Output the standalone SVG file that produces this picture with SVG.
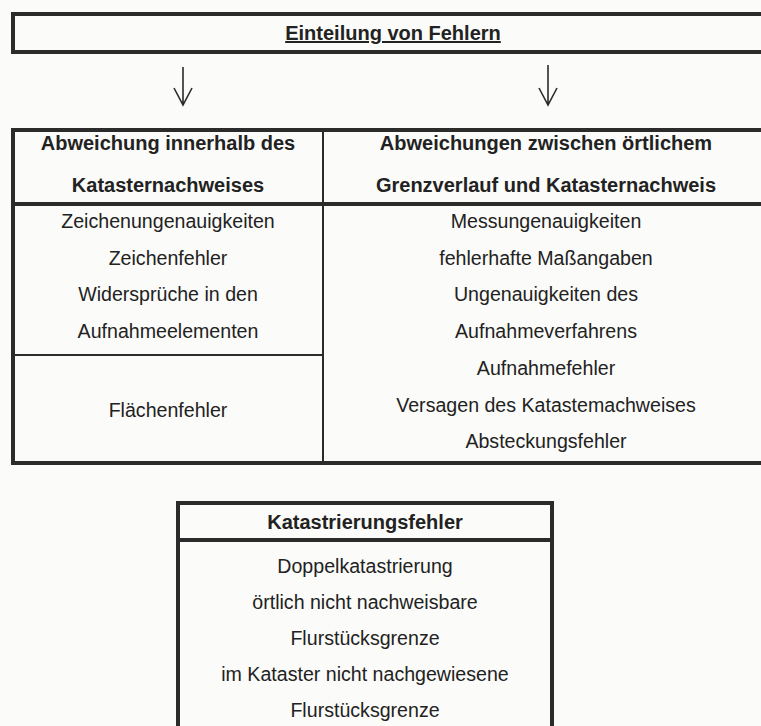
<svg xmlns="http://www.w3.org/2000/svg" width="761" height="726" viewBox="0 0 761 726">
<style>
.t{font-family:"Liberation Sans",Arial,sans-serif;font-size:19.6px;fill:#222;text-anchor:middle}
.b{font-weight:bold;font-size:20px}
.box{fill:none;stroke:#2b2b2b;stroke-width:4}
.thin{stroke:#2b2b2b;stroke-width:2;fill:none}
.thick{stroke:#2b2b2b;stroke-width:4;fill:none}
.arr{stroke:#2b2b2b;stroke-width:1.6;fill:none}
</style>
<rect width="761" height="726" fill="#fbfbf9"/>
<g id="title">
<rect class="box" x="13" y="14" width="760" height="38"/>
<text class="t b" x="393" y="40" text-decoration="underline">Einteilung von Fehlern</text>
</g>
<g id="connectors">
<path class="arr" d="M183 67 V105 M174 88 L183 105 L192 88"/>
<path class="arr" d="M548 65 V105 M539 88 L548 105 L557 88"/>
</g>
<g id="table">
<rect class="box" x="13" y="130" width="760" height="333"/>
<line class="thick" x1="13" y1="204" x2="773" y2="204"/>
<line class="thin" x1="323" y1="130" x2="323" y2="463"/>
<line class="thin" x1="13" y1="355" x2="323" y2="355"/>
</g>
<g id="left">
<text class="t b" x="168" y="150">Abweichung innerhalb des</text>
<text class="t b" x="168" y="192">Katasternachweises</text>
<text class="t" x="168" y="228">Zeichenungenauigkeiten</text>
<text class="t" x="168" y="265">Zeichenfehler</text>
<text class="t" x="168" y="301">Widersprüche in den</text>
<text class="t" x="168" y="338">Aufnahmeelementen</text>
<text class="t" x="168" y="417">Flächenfehler</text>
</g>
<g id="right">
<text class="t b" x="546" y="150">Abweichungen zwischen örtlichem</text>
<text class="t b" x="546" y="192">Grenzverlauf und Katasternachweis</text>
<text class="t" x="546" y="228">Messungenauigkeiten</text>
<text class="t" x="546" y="265">fehlerhafte Maßangaben</text>
<text class="t" x="546" y="301">Ungenauigkeiten des</text>
<text class="t" x="546" y="338">Aufnahmeverfahrens</text>
<text class="t" x="546" y="375">Aufnahmefehler</text>
<text class="t" x="546" y="412">Versagen des Katastemachweises</text>
<text class="t" x="546" y="448">Absteckungsfehler</text>
</g>
<g id="katastrierung">
<path class="box" d="M178 740 V503 H552 V740"/>
<line class="thick" x1="178" y1="540" x2="552" y2="540"/>
<text class="t b" x="365" y="529">Katastrierungsfehler</text>
<text class="t" x="365" y="573">Doppelkatastrierung</text>
<text class="t" x="365" y="609">örtlich nicht nachweisbare</text>
<text class="t" x="365" y="645">Flurstücksgrenze</text>
<text class="t" x="365" y="681">im Kataster nicht nachgewiesene</text>
<text class="t" x="365" y="717">Flurstücksgrenze</text>
</g>
</svg>
